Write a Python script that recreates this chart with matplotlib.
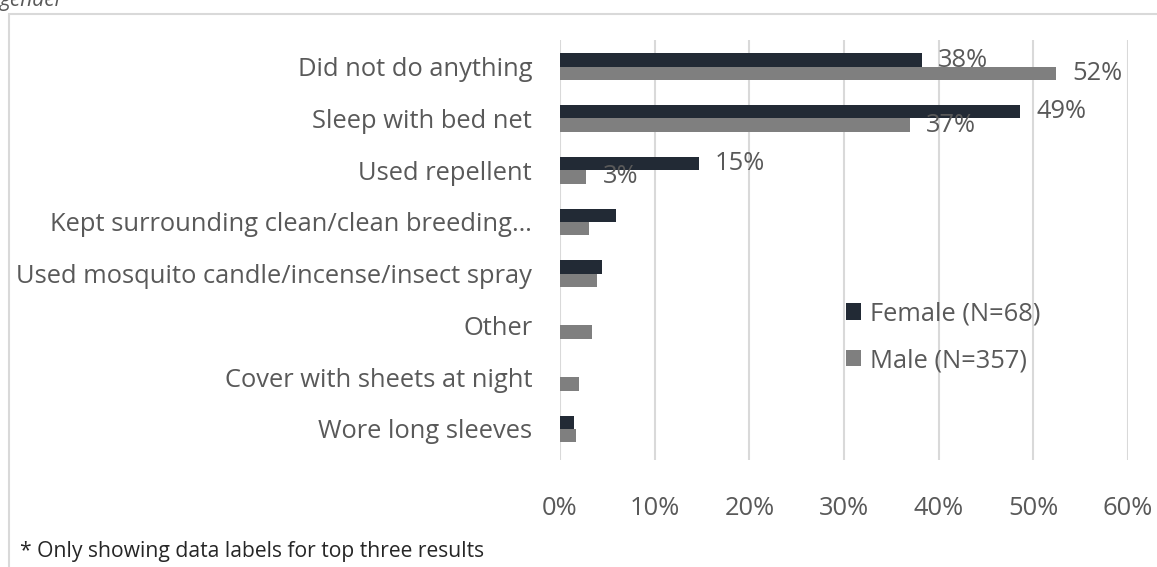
import numpy as np
import matplotlib
matplotlib.use("Agg")
import matplotlib.pyplot as plt
from matplotlib.patches import Rectangle

# share of respondents per prevention measure, by gender (percent)
measures = [
    "Did not do anything",
    "Sleep with bed net",
    "Used repellent",
    "Kept surrounding clean/clean breeding…",
    "Used mosquito candle/incense/insect spray",
    "Other",
    "Cover with sheets at night",
    "Wore long sleeves",
]
female = [38.2, 48.6, 14.7, 5.9, 4.4, 0.0, 0.0, 1.5]
male = [52.4, 37.0, 2.8, 3.1, 3.9, 3.4, 2.0, 1.7]
series_names = ["Female (N=68)", "Male (N=357)"]
x_ticks = [0, 10, 20, 30, 40, 50, 60]
n_labelled = 3  # only the top three rows get data labels

TEXT = "#595959"
GRID = "#d9d9d9"
FEMALE_C = "#222a35"
MALE_C = "#7f7f7f"
FS = 18.4

plt.rcParams["font.family"] = ["Open Sans", "DejaVu Sans"]

fig = plt.figure(figsize=(11.57, 5.67), dpi=100)
ax = fig.add_axes([0.484, 0.1887, 0.491, 0.7407])

y = np.arange(len(measures))
h = 0.258
ax.barh(y - h / 2, female, height=h, color=FEMALE_C, label=series_names[0], zorder=3)
ax.barh(y + h / 2, male, height=h, color=MALE_C, label=series_names[1], zorder=3)

for i in range(n_labelled):
    for val, off in ((female[i], -h / 2), (male[i], h / 2)):
        ax.annotate(f"{round(val)}%", (val, i + off), xytext=(11.5, 0),
                    textcoords="offset points", va="center", ha="left",
                    fontsize=FS, color=TEXT, zorder=4)

ax.set_xlim(0, 60)
ax.set_ylim(7.6, -0.515)
ax.set_xticks(x_ticks)
ax.set_xticklabels([f"{t}%" for t in x_ticks])
ax.set_yticks(y)
ax.set_yticklabels(measures)
ax.tick_params(axis="x", length=0, pad=26, labelsize=FS, labelcolor=TEXT)
ax.tick_params(axis="y", length=0, pad=20, labelsize=FS, labelcolor=TEXT)
ax.grid(axis="x", color=GRID, linewidth=1.5, zorder=0)
for s in ax.spines.values():
    s.set_visible(False)

leg = ax.legend(loc="upper left", bbox_to_anchor=(0.485, 0.402), frameon=False,
                fontsize=FS, labelcolor=TEXT, handlelength=0.6, handleheight=0.6,
                handletextpad=0.35, labelspacing=0.85, borderaxespad=0)

# chart frame and the cut-off caption above it
fig.patches.append(Rectangle((9 / 1157, -0.1), 1.2, 1 - 14 / 567 + 0.1,
                             transform=fig.transFigure, fill=False,
                             edgecolor=GRID, linewidth=1.5))
fig.text(0.0, 1 - 6 / 567, "gender", style="italic", fontsize=15,
         color=TEXT, va="baseline", ha="left")
fig.text(20 / 1157, 1 - 552 / 567, "* Only showing data labels for top three results",
         fontsize=15.2, color="#262626", va="center", ha="left")

fig.savefig("out.png", dpi=100)
